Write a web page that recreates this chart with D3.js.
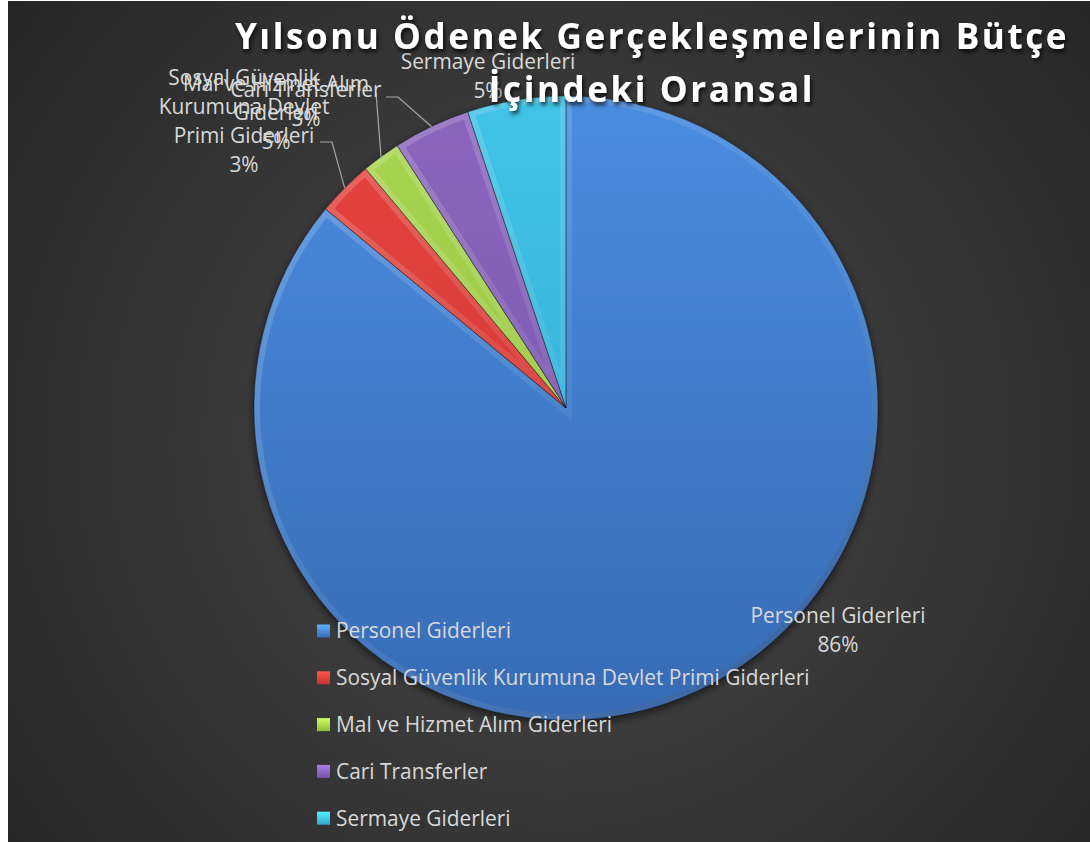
<!DOCTYPE html>
<html>
<head>
<meta charset="utf-8">
<script src="https://cdn.jsdelivr.net/npm/d3@7"></script>
<style>
  body { margin: 0; background: #fff; }
  svg { display: block; }
</style>
</head>
<body>
<div id="chart"></div>
<script>
// data
const categories = ["Personel Giderleri", "Sosyal Güvenlik Kurumuna Devlet Primi Giderleri", "Mal ve Hizmet Alım Giderleri", "Cari Transferler", "Sermaye Giderleri"];
const shares = [86.0, 2.9, 2.0, 4.0, 5.1];
const pctLabels = ["86%", "3%", "5%", "3%", "5%"];
const labelLines = [
  ["Personel Giderleri"],
  ["Sosyal Güvenlik", "Kurumuna Devlet", "Primi Giderleri"],
  ["Mal ve Hizmet Alım", "Giderleri"],
  ["Cari Transferler"],
  ["Sermaye Giderleri"]
];
const titleLines = ["Yılsonu Ödenek Gerçekleşmelerinin Bütçe", "İçindeki Oransal"];

const colorTop = ["#4a8de0", "#e8443f", "#a9d651", "#8b66be", "#40c4e8"];
const colorBot = ["#376bb5", "#c53430", "#90bc3c", "#7454a6", "#31a6cc"];

const width = 1090, height = 842;
const cx = 566, cy = 408, radius = 312;

// where the data labels were moved to (centre x, first baseline)
const labelPos = [[838, 623], [244, 85], [276, 91], [306, 97], [488, 69]];
// leader line start / elbow for the moved labels
const leaderPts = [null, [[320, 142], [332, 142]], [[376, 93]], [[386, 97], [398, 97]], null];
const lineH = 29;
const fontSize = 20.9;

const svg = d3.select("#chart").append("svg")
  .attr("width", width)
  .attr("height", height);

const defs = svg.append("defs");

const bg = defs.append("radialGradient").attr("id", "bg")
  .attr("gradientUnits", "userSpaceOnUse")
  .attr("cx", 560).attr("cy", 440).attr("r", 720);
bg.append("stop").attr("offset", 0).attr("stop-color", "#4a4a4a");
bg.append("stop").attr("offset", 1).attr("stop-color", "#252525");

colorTop.forEach((c, i) => {
  const g = defs.append("linearGradient").attr("id", "sl" + i)
    .attr("gradientUnits", "userSpaceOnUse")
    .attr("x1", 0).attr("y1", -radius).attr("x2", 0).attr("y2", radius);
  g.append("stop").attr("offset", 0).attr("stop-color", c);
  g.append("stop").attr("offset", 1).attr("stop-color", colorBot[i]);
  const m = defs.append("linearGradient").attr("id", "mk" + i)
    .attr("x1", 0).attr("y1", 0).attr("x2", 0).attr("y2", 1);
  m.append("stop").attr("offset", 0).attr("stop-color", d3.color(c).brighter(0.6));
  m.append("stop").attr("offset", 1).attr("stop-color", colorBot[i]);
});

const bevel = defs.append("linearGradient").attr("id", "bevel")
  .attr("gradientUnits", "userSpaceOnUse")
  .attr("x1", -radius).attr("y1", -radius).attr("x2", radius).attr("y2", radius);
bevel.append("stop").attr("offset", 0).attr("stop-color", "#fff").attr("stop-opacity", 0.22);
bevel.append("stop").attr("offset", 0.5).attr("stop-color", "#fff").attr("stop-opacity", 0.06);
bevel.append("stop").attr("offset", 1).attr("stop-color", "#000").attr("stop-opacity", 0.25);

const shadow = defs.append("filter").attr("id", "shadow")
  .attr("x", "-10%").attr("y", "-10%").attr("width", "120%").attr("height", "120%");
shadow.append("feDropShadow").attr("dx", 0).attr("dy", 3).attr("stdDeviation", 4)
  .attr("flood-color", "#000").attr("flood-opacity", 0.6);

const tshadow = defs.append("filter").attr("id", "tshadow")
  .attr("x", "-5%").attr("y", "-30%").attr("width", "110%").attr("height", "160%");
tshadow.append("feDropShadow").attr("dx", 1.5).attr("dy", 3).attr("stdDeviation", 2)
  .attr("flood-color", "#000").attr("flood-opacity", 0.8);

// chart area
svg.append("rect")
  .attr("x", 8).attr("y", 1)
  .attr("width", width - 8).attr("height", height - 1)
  .attr("fill", "url(#bg)");

// pie
const pie = d3.pie().sort(null).value(d => d);
const arcs = pie(shares);
const arc = d3.arc().innerRadius(0).outerRadius(radius);
const rimArc = d3.arc().innerRadius(radius).outerRadius(radius);

const pg = svg.append("g")
  .attr("transform", `translate(${cx},${cy})`);

const slices = pg.append("g").attr("filter", "url(#shadow)");

arcs.forEach((d, i) => {
  defs.append("clipPath").attr("id", "clip" + i)
    .append("path").attr("d", arc(d));
});

slices.selectAll("path.slice")
  .data(arcs)
  .join("path")
    .attr("class", "slice")
    .attr("d", arc)
    .attr("fill", (d, i) => `url(#sl${i})`);

// bevel edge inside each slice
slices.selectAll("path.bevel")
  .data(arcs)
  .join("path")
    .attr("class", "bevel")
    .attr("d", arc)
    .attr("fill", "none")
    .attr("stroke", "url(#bevel)")
    .attr("stroke-width", 12)
    .attr("clip-path", (d, i) => `url(#clip${i})`);

slices.selectAll("path.edge")
  .data(arcs)
  .join("path")
    .attr("class", "edge")
    .attr("d", arc)
    .attr("fill", "none")
    .attr("stroke", "#000")
    .attr("stroke-opacity", 0.3)
    .attr("stroke-width", 1);

// leader lines
arcs.forEach((d, i) => {
  if (!leaderPts[i]) return;
  const rim = rimArc.centroid(d);
  const pts = leaderPts[i].concat([[cx + rim[0], cy + rim[1]]]);
  svg.append("path")
    .attr("d", d3.line()(pts))
    .attr("fill", "none")
    .attr("stroke", "#a6a6a6")
    .attr("stroke-width", 1.2);
});

// data labels
const lab = svg.append("g")
  .attr("font-family", "'Open Sans', sans-serif")
  .attr("font-size", fontSize)
  .attr("fill", "#d9d9d9")
  .attr("text-anchor", "middle");

categories.forEach((c, i) => {
  const lines = labelLines[i].concat([pctLabels[i]]);
  const t = lab.append("text")
    .attr("x", labelPos[i][0]).attr("y", labelPos[i][1]);
  lines.forEach((l, j) => {
    t.append("tspan")
      .attr("x", labelPos[i][0])
      .attr("dy", j === 0 ? 0 : lineH)
      .text(l);
  });
});

// legend
const legend = svg.append("g")
  .attr("transform", "translate(317,631)")
  .attr("font-family", "'Open Sans', sans-serif")
  .attr("font-size", fontSize)
  .attr("fill", "#d9d9d9");

const rows = legend.selectAll("g")
  .data(categories)
  .join("g")
    .attr("transform", (d, i) => `translate(0,${i * 46.8})`);

rows.append("rect")
  .attr("x", 0).attr("y", -6.5)
  .attr("width", 13).attr("height", 13)
  .attr("fill", (d, i) => `url(#mk${i})`);

rows.append("text")
  .attr("x", 19)
  .attr("y", 7.4)
  .text(d => d);

// title
const title = svg.append("text")
  .attr("font-family", "'Open Sans', sans-serif")
  .attr("font-weight", "bold")
  .attr("font-size", 35)
  .attr("letter-spacing", 2.6)
  .attr("fill", "#ffffff")
  .attr("text-anchor", "middle")
  .attr("filter", "url(#tshadow)");

titleLines.forEach((l, j) => {
  title.append("tspan")
    .attr("x", 652)
    .attr("y", 49 + j * 53)
    .text(l);
});
</script>
</body>
</html>
